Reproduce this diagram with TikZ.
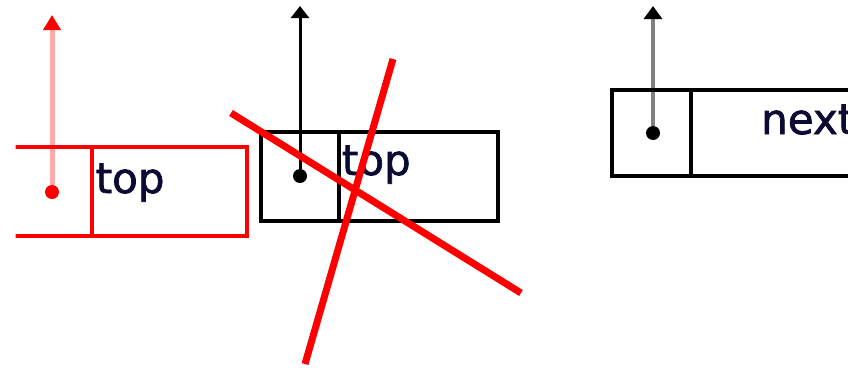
\documentclass[tikz,border=0pt]{standalone}
\usepackage{fontspec}
\setmainfont{DejaVu Sans}[BoldFont={DejaVu Sans},BoldFeatures={FakeBold=1.6}]
\usetikzlibrary{arrows.meta}
\definecolor{txt}{RGB}{10,10,50}
\definecolor{pinkline}{RGB}{255,170,170}
\definecolor{grayline}{RGB}{128,128,128}
\begin{document}
\begin{tikzpicture}[x=1pt,y=-1pt,
  cell/.style={draw, line width=3.3pt, inner sep=0pt, outer sep=0pt},
  lbl/.style={anchor=base west, inner sep=0pt, font=\fontsize{42}{50}\selectfont\bfseries, text=txt},
  dotnode/.style={circle, fill, inner sep=0pt, minimum size=14pt},
  ptr/.style={line width=4.5pt},
  cross/.style={draw=red, line width=7pt}]
\useasboundingbox (0,0) rectangle (848,370);
\clip (0,0) rectangle (848,370);
% tips
\coordinate (t1) at (52,15);
\coordinate (t2) at (300,6);
\coordinate (t3) at (653,6);
% dots
\node[dotnode, fill=red] (d1) at (52,192) {};
\node[dotnode, fill=black] (d2) at (300,176) {};
\node[dotnode, fill=black] (d3) at (653,133) {};
% pointers
\draw[ptr, line width=5pt, draw=pinkline, -{Triangle[width=17pt,length=15pt,color=red]}] (d1) -- (t1);
\draw[ptr, line width=3pt, draw=black, -{Triangle[width=18pt,length=12pt,color=black]}] (d2) -- (t2);
\draw[ptr, draw=grayline, -{Triangle[width=18pt,length=13pt,color=black]}] (d3) -- (t3);
% node 1 (red), clipped at left
\begin{scope}
\clip (15.5,0) rectangle (848,370);
\node[cell, draw=red, minimum width=79pt, minimum height=89pt] (a1) at (52.5,191.5) {};
\node[cell, draw=red, minimum width=155pt, minimum height=89pt, anchor=west] (a2) at (a1.east) {};
\end{scope}
% node 2 (black)
\node[cell, minimum width=78pt, minimum height=89pt] (b1) at (300,176.5) {};
\node[cell, minimum width=159pt, minimum height=89pt, anchor=west] (b2) at (b1.east) {};
% node 3 (black)
\node[cell, minimum width=79pt, minimum height=86pt] (e1) at (651.5,133) {};
\node[cell, minimum width=159pt, minimum height=86pt, anchor=west] (e2) at (e1.east) {};
% labels
\node[lbl] (l1) at (95.5,193) {top};
\node[lbl] (l2) at (341.7,175) {top};
\node[lbl] (l3) at (761,134) {next};
% cross
\coordinate (c1) at (231,113);
\coordinate (c2) at (521,293);
\coordinate (c3) at (393,59);
\coordinate (c4) at (305,364);
\draw[cross] (c1) -- (c2);
\draw[cross] (c3) -- (c4);
\end{tikzpicture}
\end{document}
